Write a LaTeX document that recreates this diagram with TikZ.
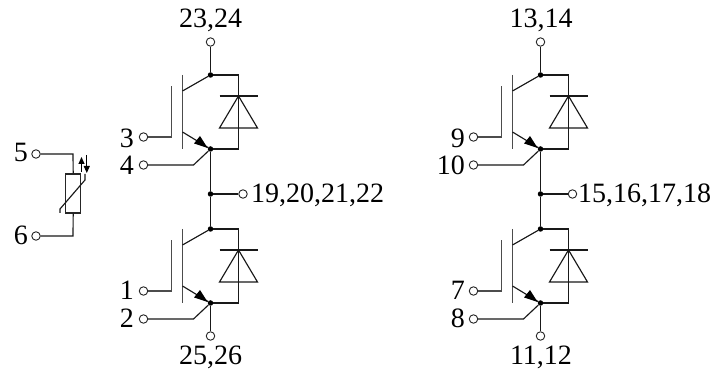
\documentclass[tikz,border=0pt]{standalone}
\usepackage{fontspec}
\setmainfont{Liberation Serif}
\usetikzlibrary{arrows.meta}
\tikzset{
  x=1pt,y=-1pt,
  wire/.style={line width=1.25pt,black!90},
  thin wire/.style={line width=1.15pt,black!90},
  gate/.style={line width=1.25pt,black!70},
  term/.style={circle,draw=black!85,line width=0.9pt,fill=white,minimum size=8.5pt,inner sep=0pt},
  junc/.style={circle,fill=black,minimum size=5.5pt,inner sep=0pt},
  lab/.style={font=\fontsize{28}{28}\selectfont,inner sep=0pt,text=black},
  tip/.style={line width=1pt,-{Triangle[length=7pt,width=6pt]}},
}
\newcommand{\halfbridge}[3]{% x, y of the collector dot, name prefix
  \begin{scope}[shift={(#1,#2)}]
    \node[junc] (#3c) at (0,0) {};
    \node[junc] (#3e) at (0,74) {};
    \node[term] (#3g) at (-67,62) {};
    \node[term] (#3k) at (-67,90) {};
    \coordinate (#3ka) at (-17,90);
    \coordinate (#3gt) at (-39,62);
    \coordinate (#3gb) at (-39,11);
    \coordinate (#3r1) at (28,0);
    \coordinate (#3r2) at (28,74);
    \draw[gate] (#3g) -- (#3gt) -- (#3gb);
    \draw[gate] (-28,0) -- (-28,74);
    \draw[thin wire] (-28,16) -- (#3c);
    \draw[thin wire] (-28,57) -- (#3e);
    \fill[black] (#3e) -- (-16.5,68.5) -- (-10.5,61) -- cycle;
    \draw[thin wire] (#3k) -- (#3ka) -- (#3e);
    \draw[thin wire] (#3c) -- (#3r1) -- (#3r2) -- (#3e);
    \draw[thin wire] (9,21) -- (47,21);
    \draw[thin wire] (28,21) -- (9,53) -- (47,53) -- cycle;
  \end{scope}
}
\begin{document}
\begin{tikzpicture}
\useasboundingbox (0,0) rectangle (716,374);
% left leg
\halfbridge{210.5}{75}{a}
\halfbridge{210.5}{229}{b}
\node[term] (t2324) at (210.5,42) {};
\node[term] (t2526) at (210.5,336) {};
\node[junc] (ma) at (210.5,194) {};
\node[term] (t19) at (243,194) {};
\draw[wire] (t2324) -- (ac);
\draw[wire] (ae) -- (ma) -- (bc);
\draw[wire] (be) -- (t2526);
\draw[thin wire] (ma) -- (t19);
% right leg
\halfbridge{540.5}{75}{c}
\halfbridge{540.5}{229}{d}
\node[term] (t1314) at (540.5,42) {};
\node[term] (t1112) at (540.5,336) {};
\node[junc] (mb) at (540.5,194) {};
\node[term] (t15) at (572.5,194) {};
\draw[wire] (t1314) -- (cc);
\draw[wire] (ce) -- (mb) -- (dc);
\draw[wire] (de) -- (t1112);
\draw[thin wire] (mb) -- (t15);
% thermistor
\node[term] (t5) at (36,154) {};
\node[term] (t6) at (36,236) {};
\node[draw=black!85,line width=1.15pt,minimum width=15pt,minimum height=39pt,inner sep=0pt] (rt) at (73.2,193.5) {};
\coordinate (c5) at (73,154);
\coordinate (c6) at (73,236);
\draw[thin wire] (t5) -- (c5) -- (rt.north);
\draw[thin wire] (t6) -- (c6) -- (rt.south);
\draw[thin wire] (60,213) -- (60,209) -- (85,180) -- (85,174);
\draw[tip] (81.5,172) -- (81.5,157);
\draw[tip] (86.8,155) -- (86.8,173);
% labels
\node[lab,anchor=base] at (210.5,28) {23,24};
\node[lab,anchor=base] at (210.5,365) {25,26};
\node[lab,anchor=base west] at (251,203) {19,20,21,22};
\node[lab,anchor=base east] at (134,148) {3};
\node[lab,anchor=base east] at (134,175) {4};
\node[lab,anchor=base east] at (134,300) {1};
\node[lab,anchor=base east] at (134,328) {2};
\node[lab,anchor=base east] at (28,162) {5};
\node[lab,anchor=base east] at (28,245) {6};
\node[lab,anchor=base] at (541,28) {13,14};
\node[lab,anchor=base] at (541,365) {11,12};
\node[lab,anchor=base west] at (578,203) {15,16,17,18};
\node[lab,anchor=base east] at (465,148) {9};
\node[lab,anchor=base east] at (465,175) {10};
\node[lab,anchor=base east] at (465,300) {7};
\node[lab,anchor=base east] at (465,328) {8};
\end{tikzpicture}
\end{document}
